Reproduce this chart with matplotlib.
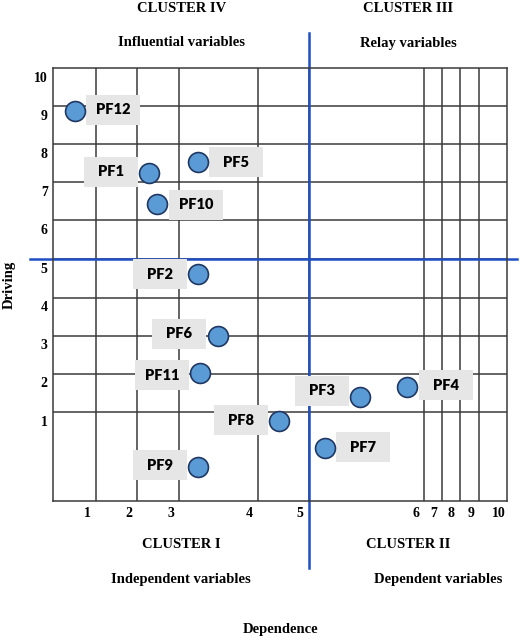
import numpy as np
import matplotlib.pyplot as plt
import matplotlib.transforms as mtransforms
from matplotlib.patches import Rectangle

# factors and their (dependence, driving) positions
names = ["PF12", "PF1", "PF5", "PF10", "PF2", "PF6", "PF11", "PF9", "PF8", "PF3", "PF4", "PF7"]
dependence = [0.51, 2.29, 3.24, 2.48, 3.24, 3.49, 3.26, 3.24, 4.42, 5.44, 5.85, 5.14]
driving = [8.87, 7.23, 7.53, 6.44, 4.61, 3.00, 2.03, 0.39, 0.90, 1.41, 1.65, 0.60]

tick_vals = list(range(1, 11))
tick_labels = [str(v) for v in tick_vals]

# the grid in the original is unevenly spaced: axis value -> pixel position
x_grid_vals = np.arange(0, 11)
x_grid_pix = np.array([53.3, 95.7, 137.3, 179.3, 257.7, 308.7, 424.3, 442.3, 460.0, 479.3, 507.0])
y_grid_vals = np.arange(0, 11)
y_grid_pix = -np.array([501.3, 412.3, 374.0, 336.0, 297.7, 259.3, 220.3, 182.3, 144.0, 106.0, 68.3])

# label box offsets from the point centre (pixels)
label_off = [(38, 1), (-38, 1.5), (38, 0), (39, -1), (-38, 0), (-39, 2),
             (-37.5, -2.3), (-38, 1.4), (-38, 0.8), (-38, 5.7), (39, 2), (38, 0.7)]


def fx(v):
    return np.interp(v, x_grid_vals, x_grid_pix)


def fx_inv(p):
    return np.interp(p, x_grid_pix, x_grid_vals)


def fy(v):
    return np.interp(v, y_grid_vals, y_grid_pix)


def fy_inv(p):
    return np.interp(p, y_grid_pix, y_grid_vals)


W, H = 520, 640
fig = plt.figure(figsize=(W / 100, H / 100), dpi=100)
ax = fig.add_axes([53.3 / W, 1 - 501.3 / H, 453.7 / W, 433 / H])
ax.set_xscale("function", functions=(fx, fx_inv))
ax.set_yscale("function", functions=(fy, fy_inv))
ax.set_xlim(0, 10)
ax.set_ylim(0, 10)

grid_col = "#3a3a3a"
blue = "#1f4fc4"
serif = "Liberation Serif"

for v in range(1, 10):
    ax.axvline(v, color=grid_col, lw=1.1, zorder=1)
    ax.axhline(v, color=grid_col, lw=1.1, zorder=1)
for s in ax.spines.values():
    s.set_color(grid_col)
    s.set_linewidth(1.1)

ax.axvline(5, ymin=-0.155, ymax=1.081, clip_on=False, color=blue, lw=1.8, zorder=2)
ax.axhline(5, xmin=-0.051, xmax=1.022, clip_on=False, color=blue, lw=1.8, zorder=2)

ax.set_xticks(tick_vals)
ax.set_xticklabels(tick_labels)
ax.set_yticks(tick_vals)
ax.set_yticklabels(tick_labels)
ax.tick_params(length=0, labelsize=10)
ax.tick_params(axis="x", pad=4)
ax.tick_params(axis="y", pad=4)
for lab in ax.get_xticklabels():
    lab.set_fontfamily(serif)
    lab.set_fontweight("bold")
    lab.set_transform(lab.get_transform() + mtransforms.ScaledTranslation(-8.5 / 100, 0, fig.dpi_scale_trans))
for lab in ax.get_yticklabels():
    lab.set_fontfamily(serif)
    lab.set_fontweight("bold")
    lab.set_transform(lab.get_transform() + mtransforms.ScaledTranslation(0, -8.5 / 100, fig.dpi_scale_trans))

# label boxes and points
for name, x, y, (dx, dy) in zip(names, dependence, driving, label_off):
    tr = mtransforms.ScaledTranslation(x, y, ax.transData)
    ax.add_patch(Rectangle((dx - 27, dy - 15), 54, 30, transform=tr, facecolor="#e6e6e6",
                           edgecolor="none", clip_on=False, zorder=3))
    ax.text(dx, dy, name, transform=tr, ha="center", va="center", fontsize=10.5,
            fontfamily="Lato", fontweight="heavy", color="black", zorder=3.5)

ax.scatter(dependence, driving, s=205, c="#5b9bd5", edgecolors="#1f3864", linewidths=1.2, zorder=4, clip_on=False)


def ftext(x, y, s, **kw):
    fig.text(x / W, 1 - y / H, s, ha="center", va="center", fontfamily=serif,
             fontweight="bold", fontsize=10.5, **kw)


ftext(181.5, 9, "CLUSTER IV")
ftext(408, 9, "CLUSTER III")
ftext(181, 43, "Influential variables")
ftext(408.5, 43, "Relay variables")
ftext(181, 544, "CLUSTER I")
ftext(408.5, 544, "CLUSTER II")
ftext(181, 579, "Independent variables")
ftext(438, 579, "Dependent variables")
ftext(280.5, 630, "Dependence")
ftext(9, 284.5, "Driving", rotation=90)

fig.savefig("out.png", dpi=100)
